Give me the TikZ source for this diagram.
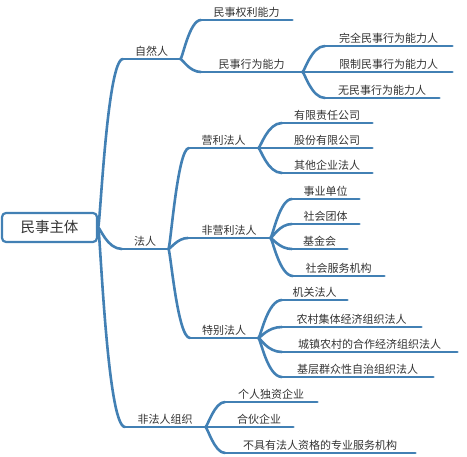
\documentclass[tikz,border=0pt]{standalone}
\usepackage{fontspec}
\setmainfont{Noto Sans CJK SC}
\usetikzlibrary{calc}
\definecolor{lc}{RGB}{66,128,180}
\definecolor{tc}{RGB}{51,51,51}
\tikzset{
  ln/.style={draw=lc,line width=2.6pt,line cap=round,line join=round},
  br/.style={to path={.. controls ([xshift=2pt]\tikztostart) and ($(\tikztostart|-\tikztotarget)+(9pt,0)$) .. (\tikztotarget)}},
  lbl/.style={anchor=south west,inner xsep=0pt,inner ysep=2.5pt,text height=8.5pt,text depth=1pt,
    font=\fontsize{11}{13}\selectfont,text=tc},
}
\begin{document}
\begin{tikzpicture}[x=1pt,y=-1pt]
\useasboundingbox (0,0) rectangle (467,457);
\node[draw=lc,line width=2.2pt,rounded corners=4pt,minimum width=95pt,minimum height=29pt,inner sep=0pt,
  font=\fontsize{14.5}{16}\selectfont,text=tc] (root) at (49.5,227.5) {民事主体};
% first level
\node[lbl,minimum width=57pt] (zr) at (123,59) {自然人};
\node[lbl,minimum width=46pt] (fr) at (122,249) {法人};
\node[lbl,minimum width=80pt] (ffr) at (125,427) {非法人组织};
% natural persons
\node[lbl,minimum width=91pt] (ql) at (201,20) {民事权利能力};
\node[lbl,minimum width=101pt] (xw) at (201,72) {民事行为能力};
\node[lbl,minimum width=127pt] (wq) at (325,46) {完全民事行为能力人};
\node[lbl,minimum width=127pt] (xz) at (325,72) {限制民事行为能力人};
\node[lbl,minimum width=114pt] (wm) at (325,98) {无民事行为能力人};
% legal persons
\node[lbl,minimum width=69pt] (yl) at (189,148) {营利法人};
\node[lbl,minimum width=82pt] (fyl) at (188,238) {非营利法人};
\node[lbl,minimum width=68pt] (tb) at (190,338) {特别法人};
\node[lbl,minimum width=90pt] (yx) at (282,123) {有限责任公司};
\node[lbl,minimum width=90pt] (gf) at (282,148) {股份有限公司};
\node[lbl,minimum width=90pt] (qt) at (282,173) {其他企业法人};
\node[lbl,minimum width=67pt] (sy) at (292,199) {事业单位};
\node[lbl,minimum width=67pt] (st) at (292,224) {社会团体};
\node[lbl,minimum width=55pt] (jj) at (292,249) {基金会};
\node[lbl,minimum width=91pt] (sf) at (293,276) {社会服务机构};
\node[lbl,minimum width=65pt] (jg) at (282,300) {机关法人};
\node[lbl,minimum width=139pt] (nc) at (282,327) {农村集体经济组织法人};
\node[lbl,minimum width=175pt] (cz) at (282,352) {城镇农村的合作经济组织法人};
\node[lbl,minimum width=151pt] (jc) at (282,377) {基层群众性自治组织法人};
% unincorporated
\node[lbl,minimum width=92pt] (gr) at (225,402) {个人独资企业};
\node[lbl,minimum width=68pt] (hh) at (225,427) {合伙企业};
\node[lbl,minimum width=190pt] (bj) at (225,453) {不具有法人资格的专业服务机构};

\foreach \n in {zr,fr,ffr,ql,xw,wq,xz,wm,yl,fyl,tb,yx,gf,qt,sy,st,jj,sf,jg,nc,cz,jc,gr,hh,bj}
  \draw[ln] (\n.south west) -- (\n.south east);
\foreach \b in {zr,fr,ffr}
  \draw[ln] (root.east) to[br] (\b.south west);
\foreach \a/\b in {zr/ql,zr/xw,xw/wq,xw/xz,xw/wm,fr/yl,fr/fyl,fr/tb,yl/yx,yl/gf,yl/qt,
  fyl/sy,fyl/st,fyl/jj,fyl/sf,tb/jg,tb/nc,tb/cz,tb/jc,ffr/gr,ffr/hh,ffr/bj}
  \draw[ln] (\a.south east) to[br] (\b.south west);
\end{tikzpicture}
\end{document}
